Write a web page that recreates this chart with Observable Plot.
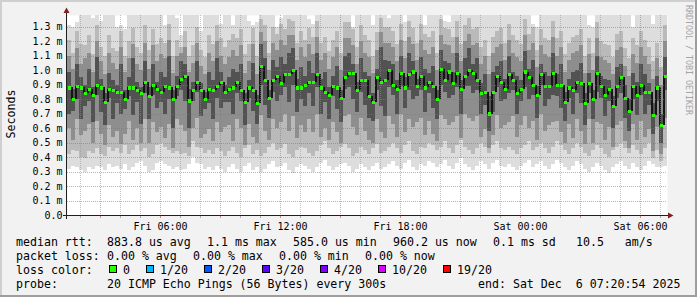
<!DOCTYPE html>
<html><head><meta charset="utf-8">
<script src="https://cdn.jsdelivr.net/npm/d3@7"></script>
<script src="https://cdn.jsdelivr.net/npm/@observablehq/plot@0.6"></script>
<style>
html,body{margin:0;padding:0;background:#f2f2f2;}
svg{display:block;}
</style></head><body><div id="chart"></div>
<script>
// ---- DATA (values in hundredths of a millisecond, one entry per 12-minute column) ----
const medianRtt = [
88,80,89,88,84,87,83,90,88,78, 87,86,85,85,80,88,88,86,84,92,
82,90,87,85,89,88,80,89,94,96, 79,86,92,86,80,87,86,89,92,85,
87,88,92,86,78,88,86,77,103,93, 81,93,96,91,97,97,100,88,88,90,
92,92,97,88,85,83,89,88,81,95, 98,98,86,93,93,82,78,95,92,93,
100,90,87,98,88,97,99,89,96,88, 92,89,80,101,93,99,91,98,87,96,
100,98,93,84,85,70,85,96,92,87, 97,93,84,87,99,95,90,83,97,89,
89,98,90,90,78,88,86,92,91,77, 91,80,98,89,83,87,75,89,95,81,
72,89,83,90,85,85,69,88,62,96];
// outermost smoke (lightest) low / high
const smokeLo1 = [
32,34,33,31,30,33,32,34,33,31, 35,33,34,32,35,31,33,36,37,34,
30,31,36,37,35,34,32,33,31,32, 35,40,36,35,32,33,31,34,32,30,
33,35,32,30,34,36,31,33,30,32, 35,37,33,34,36,31,29,33,35,34,
32,30,33,36,38,34,31,33,35,36, 34,30,32,35,33,31,34,36,32,33,
35,37,34,32,36,38,33,31,35,34, 37,36,33,35,38,34,32,36,39,35,
33,31,34,37,35,32,36,38,34,33, 35,33,31,34,36,38,33,35,37,34,
32,35,38,36,33,31,34,37,35,32, 30,33,36,34,31,29,33,35,37,34,
32,36,33,31,34,37,35,33,33,34];
const smokeHi1 = [
131,130,133,138,138,138,136,138,134,138, 138,138,130,131,128,138,138,138,138,138,
138,138,138,138,131,138,138,136,124,138, 138,138,138,127,138,138,138,138,132,138,
138,131,138,138,138,134,131,133,138,138, 138,138,130,136,138,138,138,138,138,138,
135,132,138,138,138,138,138,138,138,138, 138,130,138,138,138,138,131,138,138,138,
136,138,138,138,133,138,138,138,138,131, 138,138,138,138,134,133,138,138,138,138,
138,138,138,138,138,138,138,138,138,138, 138,138,138,138,138,138,132,130,138,138,
138,138,138,138,138,138,138,138,138,138, 131,130,138,138,138,138,138,138,138,138,
138,130,138,138,138,138,132,138,138,138];
// second smoke layer low / high
const smokeLo2 = [
42,45,44,40,39,44,43,46,42,41, 47,44,46,43,48,42,45,48,44,46,
40,42,48,50,47,45,43,44,42,43, 41,51,47,46,43,45,42,46,44,41,
44,47,43,40,46,48,42,45,41,43, 47,50,45,46,49,42,40,45,47,46,
43,41,44,48,51,46,42,44,47,49, 46,41,43,47,45,42,46,49,43,44,
47,50,46,43,48,51,44,42,47,46, 50,48,45,47,51,46,43,48,52,47,
45,42,46,50,47,43,48,51,46,45, 47,45,42,46,48,51,45,47,50,46,
43,47,51,48,45,42,46,50,47,43, 41,45,48,46,42,40,45,47,50,46,
43,48,45,42,46,50,39,45,37,46];
const smokeHi2 = [
121,112,127,118,117,124,111,131,116,110, 124,115,113,127,110,120,129,116,112,131,
114,128,118,122,119,132,110,121,116,127, 110,117,130,114,109,124,118,131,122,116,
121,125,122,128,111,118,129,110,135,131, 112,130,125,132,128,135,134,119,127,121,
129,123,134,119,123,113,121,127,112,133, 133,128,116,131,124,121,110,126,136,130,
130,127,118,132,120,134,129,119,132,125, 123,127,112,135,129,128,123,134,118,131,
136,128,130,116,121,110,123,127,129,119, 132,124,121,118,135,125,130,114,128,122,
121,134,122,127,111,119,123,124,128,110, 122,112,133,120,118,117,109,125,127,115,
108,122,117,127,121,116,106,119,102,131];
// third smoke layer low / high
const smokeLo3 = [
60,52,66,55,58,63,50,65,56,48, 62,54,58,49,56,65,52,60,50,66,
50,64,57,61,53,63,46,66,62,58, 47,60,67,53,56,59,51,64,57,61,
62,51,66,60,48,63,54,50,69,58, 52,66,60,64,70,58,68,53,62,57,
66,57,70,54,60,52,64,57,50,68, 70,61,55,67,58,52,50,66,57,53,
68,63,54,70,57,66,61,64,67,55, 65,56,51,69,66,62,64,68,53,70,
67,65,68,54,59,46,55,69,60,62, 64,68,54,62,68,60,65,52,70,58,
62,64,65,57,50,63,53,66,58,49, 66,50,64,63,52,61,47,62,65,51,
46,63,52,65,54,59,44,61,42,67];
const smokeHi3 = [
110,101,115,104,108,112,99,120,106,97, 112,105,101,116,99,108,118,104,100,119,
101,117,106,111,108,121,98,110,112,116, 99,105,119,103,97,112,106,120,110,104,
109,114,110,117,98,106,118,97,126,120, 100,119,114,121,117,124,124,107,116,109,
118,111,123,107,112,101,109,116,100,122, 122,117,104,120,112,109,98,114,126,119,
119,116,106,121,108,123,118,107,121,114, 111,116,100,124,118,117,112,123,106,120,
125,117,119,104,110,97,112,116,118,107, 121,112,109,106,124,114,119,102,117,111,
109,123,110,116,99,107,112,113,117,98, 111,100,122,109,107,105,97,114,116,103,
96,111,105,116,110,104,94,108,90,120];
// innermost (darkest) smoke layer low / high
const smokeLo4 = [
70,72,80,66,75,79,64,83,71,62, 81,66,77,70,73,82,69,78,63,84,
66,83,74,78,70,80,60,82,86,79, 60,79,85,68,73,77,66,81,74,78,
78,70,84,79,62,81,72,63,90,76, 67,85,79,83,88,78,90,71,80,75,
84,75,88,70,78,66,82,73,64,87, 88,80,71,85,76,67,65,86,75,68,
88,83,70,89,74,86,80,82,86,71, 84,74,66,90,85,81,83,88,70,89,
89,84,86,70,76,58,71,88,79,80, 84,86,70,79,88,80,83,67,90,75,
80,83,82,74,65,81,70,84,77,62, 84,66,85,81,68,79,60,81,84,67,
58,80,69,83,70,76,56,79,50,86];
const smokeHi4 = [
99,87,104,95,90,101,88,109,94,84, 98,93,90,104,86,95,108,92,88,106,
88,104,92,99,95,110,86,96,106,104, 87,92,106,91,85,99,93,108,99,90,
95,101,99,104,84,93,105,83,118,108, 86,107,102,109,104,112,115,94,102,96,
106,98,112,94,99,88,96,103,86,110, 112,104,92,108,99,96,84,101,116,107,
106,104,93,110,95,112,106,94,109,101, 98,103,86,114,106,105,99,112,93,108,
115,104,108,91,97,82,99,103,106,94, 110,99,96,93,113,101,107,89,104,99,
96,112,97,104,85,94,99,100,105,84, 98,86,110,96,94,93,82,102,104,90,
80,98,92,104,97,91,77,96,70,109];

const yTickValues = [0,0.1,0.2,0.3,0.4,0.5,0.6,0.7,0.8,0.9,1.0,1.1,1.2,1.3];
const xTickLabels = ["Fri 06:00","Fri 12:00","Fri 18:00","Sat 00:00","Sat 06:00"];
const xTickTimes = [Date.UTC(2025,11,5,6),Date.UTC(2025,11,5,12),Date.UTC(2025,11,5,18),Date.UTC(2025,11,6,0),Date.UTC(2025,11,6,6)];
const startTime = Date.UTC(2025,11,5,1,20,54);
const endTime = Date.UTC(2025,11,6,7,20,54);

const yAxisTitle = "Seconds";
const watermark = "RRDTOOL / TOBI OETIKER";
const rowLabels = ["median rtt:", "packet loss:", "loss color:", "probe:"];
const rttStats = ["883.8 us avg", "1.1 ms max", "585.0 us min", "960.2 us now", "0.1 ms sd", "10.5   am/s"];
const lossStats = ["0.00 % avg", "0.00 % max", "0.00 % min", "0.00 % now"];
const lossLevels = ["0", "1/20", "2/20", "3/20", "4/20", "10/20", "19/20"];
const lossColors = ["#26ff00", "#00b8ff", "#0059ff", "#5e00ff", "#7e00ff", "#dd00ff", "#ff0000"];
const probeText = "20 ICMP Echo Pings (56 Bytes) every 300s";
const endText = "end: Sat Dec  6 07:20:54 2025";

// ---- LAYOUT ----
const rttX = [107, 207, 293, 393, 493, 576];
const lossX = [107, 193, 279, 365];
const boxX = [109, 146, 204, 262, 320, 378, 443];
const lineY = [246, 260, 274, 288];

const N = medianRtt.length;
const step = (endTime - startTime) / N;
const rows = d3.range(N).map(i => ({
  x1: new Date(startTime + i * step),
  x2: new Date(startTime + (i + 1) * step),
  xm: new Date(startTime + (i + 0.5) * step),
  med: medianRtt[i] / 100,
  prev: i > 0 ? medianRtt[i - 1] / 100 : medianRtt[i] / 100,
  lo1: smokeLo1[i] / 100, hi1: smokeHi1[i] / 100,
  lo2: smokeLo2[i] / 100, hi2: smokeHi2[i] / 100,
  lo3: smokeLo3[i] / 100, hi3: smokeHi3[i] / 100,
  lo4: smokeLo4[i] / 100, hi4: smokeHi4[i] / 100
}));

const hours = d3.utcHour.range(new Date(startTime), new Date(endTime));
const minorHours = hours.filter(h => h.getUTCHours() % 3 !== 0);
const majorHours = hours.filter(h => h.getUTCHours() % 3 === 0);
const tickDates = xTickTimes.map(t => new Date(t));
const labelOf = new Map(xTickTimes.map((t, i) => [t, xTickLabels[i]]));

const band = (lo, hi, color) => Plot.rect(rows, {x1: "x1", x2: "x2", y1: lo, y2: hi, fill: color, shapeRendering: "crispEdges"});

const chart = Plot.plot({
  width: 697, height: 297,
  marginLeft: 67, marginRight: 30, marginTop: 15, marginBottom: 82,
  style: {background: "#f2f2f2", fontFamily: "DejaVu Sans Mono", fontSize: "10px", color: "#000"},
  x: {type: "utc", domain: [new Date(startTime), new Date(endTime)], label: null},
  y: {domain: [0, 1.38], label: null},
  marks: [
    Plot.frame({fill: "#ffffff", stroke: "none"}),
    band("lo1", "hi1", "#dddddd"),
    band("lo2", "hi2", "#bababa"),
    band("lo3", "hi3", "#8e8e8e"),
    band("lo4", "hi4", "#525252"),
    Plot.ruleX(rows.slice(1), {x: "x1", y1: "prev", y2: "med", stroke: "#151515", strokeWidth: 2, shapeRendering: "crispEdges"}),
    Plot.dot(rows, {x: "xm", y: "med", symbol: "square", r: 1.75, fill: "#26ff00", shapeRendering: "crispEdges"}),
    Plot.ruleX(minorHours, {stroke: "#8f8f8f", strokeOpacity: 0.55, strokeDasharray: "1,1", shapeRendering: "crispEdges"}),
    Plot.ruleX(majorHours, {stroke: "#de4f4f", strokeOpacity: 0.55, strokeDasharray: "1,1", shapeRendering: "crispEdges"}),
    Plot.ruleY(yTickValues.slice(1), {stroke: "#de4f4f", strokeOpacity: 0.55, strokeDasharray: "1,1", shapeRendering: "crispEdges"}),
    Plot.axisY({ticks: yTickValues, tickFormat: d => d === 0 ? "0.0" : d.toFixed(1) + " m", tickSize: 0, tickPadding: 5, label: null}),
    Plot.axisX({ticks: tickDates, tickFormat: d => labelOf.get(+d), tickSize: 0, tickPadding: 7, label: null})
  ]
});

document.getElementById("chart").appendChild(chart);

const xs = chart.scale("x");
const svg = d3.select(chart);
const deco = svg.append("g").attr("text-anchor", "start");

// hour ticks below the axis
hours.forEach(h => {
  const x = Math.round(xs.apply(h)) + 0.5;
  deco.append("line").attr("x1", x).attr("x2", x).attr("y1", 216).attr("y2", 218)
    .attr("stroke", h.getUTCHours() % 3 === 0 ? "#de4f4f" : "#8f8f8f").attr("stroke-opacity", 0.7);
});
// axis lines and arrows
deco.append("line").attr("x1", 63).attr("x2", 670).attr("y1", 215.5).attr("y2", 215.5).attr("stroke", "#1f1f1f");
deco.append("line").attr("x1", 66.5).attr("x2", 66.5).attr("y1", 219).attr("y2", 11).attr("stroke", "#1f1f1f");
deco.append("path").attr("d", "M668,212.5L673.5,215.5L668,218.5Z").attr("fill", "#801f1f");
deco.append("path").attr("d", "M63.5,13L66.5,7.5L69.5,13Z").attr("fill", "#801f1f");

// border shading
deco.append("rect").attr("x", 0).attr("y", 0).attr("width", 697).attr("height", 2).attr("fill", "#cfcfcf");
deco.append("rect").attr("x", 0).attr("y", 0).attr("width", 2).attr("height", 297).attr("fill", "#cfcfcf");
deco.append("rect").attr("x", 0).attr("y", 295).attr("width", 697).attr("height", 2).attr("fill", "#9e9e9e");
deco.append("rect").attr("x", 695).attr("y", 0).attr("width", 2).attr("height", 297).attr("fill", "#9e9e9e");

// y-axis title
deco.append("text").attr("transform", "translate(15,114) rotate(-90)").attr("text-anchor", "middle")
  .attr("font-family", "DejaVu Sans Mono").attr("font-size", 11.6).attr("fill", "#000").text(yAxisTitle);
// watermark
deco.append("text").attr("transform", "translate(686,5) rotate(90)").attr("text-anchor", "start")
  .attr("font-family", "DejaVu Sans Mono").attr("font-size", 8.3).attr("fill", "#a4a4a4").text(watermark);

// legend
const leg = deco.append("g").attr("text-anchor", "start").attr("font-family", "DejaVu Sans Mono")
  .attr("font-size", 11.6).attr("fill", "#000").style("white-space", "pre");
rowLabels.forEach((t, i) => leg.append("text").attr("x", 16).attr("y", lineY[i]).text(t));
rttStats.forEach((t, i) => leg.append("text").attr("x", rttX[i]).attr("y", lineY[0]).text(t));
lossStats.forEach((t, i) => leg.append("text").attr("x", lossX[i]).attr("y", lineY[1]).text(t));
lossLevels.forEach((t, i) => {
  leg.append("rect").attr("x", boxX[i] + 0.5).attr("y", lineY[2] - 8.5).attr("width", 7).attr("height", 7)
    .attr("fill", lossColors[i]).attr("stroke", "#000").attr("stroke-width", 1);
  leg.append("text").attr("x", boxX[i] + 14).attr("y", lineY[2]).text(t);
});
leg.append("text").attr("x", 107).attr("y", lineY[3]).text(probeText);
leg.append("text").attr("x", 478).attr("y", lineY[3]).text(endText);
</script></body></html>
